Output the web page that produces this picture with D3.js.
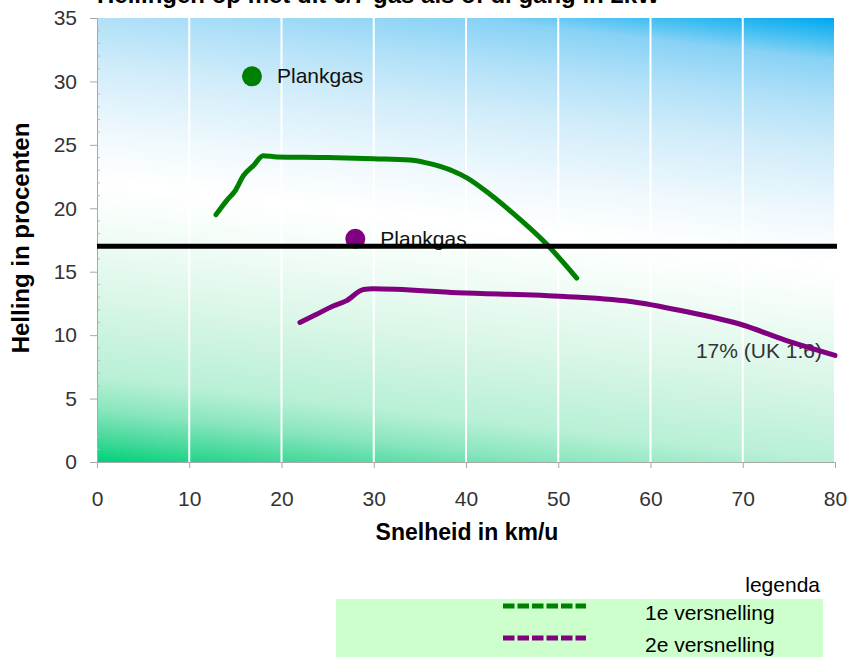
<!DOCTYPE html>
<html><head><meta charset="utf-8">
<script src="https://cdn.jsdelivr.net/npm/d3@7"></script>
<style>body{margin:0;background:#fff}svg{display:block;font-family:"Liberation Sans",Arial,sans-serif}</style>
</head><body><svg id="c" width="848" height="657"></svg>
<script>
const titleText = "Hellingen op met dit 6/7 gas als of di gang in 2kW";
const xTicks = [0,10,20,30,40,50,60,70,80];
const yTicks = [0,5,10,15,20,25,30,35];
const gear1Speed = [12.9,14.1,14.9,15.9,17.0,18.0,19.5,25,30,33.9,35.6,37.2,38.7,40.1,42.6,45.1,48.7,52.0];
const gear1Slope = [19.5,20.65,21.3,22.6,23.4,24.15,24.05,24.0,23.9,23.8,23.6,23.3,22.9,22.4,21.1,19.6,17.2,14.5];
const gear2Speed = [22.0,23.7,25.6,27.0,28.9,29.9,39.1,50.7,58.4,64.2,70.0,74.6,80];
const gear2Slope = [11.0,11.6,12.3,12.7,13.6,13.65,13.35,13.05,12.6,11.8,10.8,9.6,8.4];
const refLevel = 17;
const refLabel = "17% (UK 1:6)";
const fullThrottle = [{speed:16.8, slope:30.4, color:"#008000", label:"Plankgas"},
                      {speed:28.0, slope:17.6, color:"#800080", label:"Plankgas"}];
const legendItems = [{label:"1e versnelling", color:"#008000"},{label:"2e versnelling", color:"#800080"}];

const FS = 21;
const svg = d3.select("#c");
const x = d3.scaleLinear().domain([0,80]).range([97,835]);
const y = d3.scaleLinear().domain([0,35]).range([462,18]);

const defs = svg.append("defs");
const g = defs.append("linearGradient").attr("id","bg").attr("gradientUnits","userSpaceOnUse")
  .attr("x1",434).attr("y1",500).attr("x2",494).attr("y2",-21);
[[0,"#00d27a"],[0.04,"#40d898"],[0.1,"#8ae6bf"],[0.16,"#b8f0d6"],[0.3,"#d8f6e6"],[0.45,"#f4fdf8"],[0.53,"#ffffff"],[0.62,"#f0f9fd"],[0.75,"#d0ecfa"],[0.84,"#b0e0f8"],[0.92,"#88d2f5"],[0.96,"#40bef2"],[1,"#00a8f0"]]
 .forEach(s=>g.append("stop").attr("offset",s[0]).attr("stop-color",s[1]));

svg.append("rect").attr("x",x(0)).attr("y",y(35)).attr("width",x(80)-x(0)).attr("height",y(0)-y(35)).attr("fill","url(#bg)");

// gridlines
svg.append("g").selectAll("line").data(xTicks.filter(d=>d>0)).join("line")
  .attr("x1",d=>x(d)).attr("x2",d=>x(d)).attr("y1",y(0)).attr("y2",y(35))
  .attr("stroke","#fff").attr("stroke-width",2);

// axes
const ax = svg.append("g").attr("transform",`translate(0,${y(0)})`)
  .call(d3.axisBottom(x).tickValues(xTicks).tickSize(6).tickPadding(23));
ax.select(".domain").attr("stroke","#a8a8a8");
ax.selectAll(".tick line").attr("stroke","#a8a8a8");
ax.selectAll("text").attr("font-size",FS).attr("fill","#333").attr("font-family","Liberation Sans, Arial, sans-serif");

const ay = svg.append("g").attr("transform",`translate(${x(0)},0)`)
  .call(d3.axisLeft(y).tickValues(yTicks).tickSize(7).tickPadding(13));
ay.select(".domain").attr("stroke","#a8a8a8");
ay.selectAll(".tick line").attr("stroke","#a8a8a8");
ay.selectAll("text").attr("font-size",FS).attr("fill","#333").attr("font-family","Liberation Sans, Arial, sans-serif");
// minor ticks inside
svg.append("g").selectAll("line").data(d3.range(0,36).filter(d=>d%5!==0)).join("line")
  .attr("x1",x(0)).attr("x2",x(0)+3).attr("y1",d=>y(d)).attr("y2",d=>y(d)).attr("stroke","#b8b8b8");

// reference label
svg.append("text").attr("x",822).attr("y",358).attr("text-anchor","end").attr("font-size",FS).attr("fill","#333").text(refLabel);

// curves
const line = d3.line().x(d=>x(d[0])).y(d=>y(d[1])).curve(d3.curveMonotoneX);
svg.append("path").attr("d",line(d3.zip(gear1Speed,gear1Slope))).attr("fill","none").attr("stroke","#008000").attr("stroke-width",5).attr("stroke-linecap","round").attr("stroke-linejoin","round");
svg.append("path").attr("d",line(d3.zip(gear2Speed,gear2Slope))).attr("fill","none").attr("stroke","#800080").attr("stroke-width",5).attr("stroke-linecap","round").attr("stroke-linejoin","round");

// points + labels
fullThrottle.forEach(p=>{
  svg.append("circle").attr("cx",x(p.speed)).attr("cy",y(p.slope)).attr("r",10).attr("fill",p.color);
  svg.append("text").attr("x",x(p.speed)+25).attr("y",y(p.slope)+7).attr("font-size",FS).attr("fill","#111").text(p.label);
});

// reference line
svg.append("line").attr("x1",x(0)).attr("x2",x(80)+2).attr("y1",y(refLevel)).attr("y2",y(refLevel)).attr("stroke","#000").attr("stroke-width",5);

// titles
svg.append("text").attr("x",97).attr("y",3).attr("font-size",24).attr("font-weight","bold").text(titleText);
svg.append("text").attr("x",467).attr("y",540).attr("text-anchor","middle").attr("font-size",23).attr("font-weight","bold").text("Snelheid in km/u");
svg.append("text").attr("transform","translate(29,238) rotate(-90)").attr("text-anchor","middle").attr("font-size",24).attr("font-weight","bold").text("Helling in procenten");

// legend
svg.append("text").attr("x",820).attr("y",592).attr("text-anchor","end").attr("font-size",FS).text("legenda");
svg.append("rect").attr("x",336).attr("y",599).attr("width",487).attr("height",58).attr("fill","#ccffcc");
legendItems.forEach((it,i)=>{
  const yy = 606 + i*32;
  svg.append("line").attr("x1",503).attr("x2",586).attr("y1",yy).attr("y2",yy).attr("stroke",it.color).attr("stroke-width",5).attr("stroke-dasharray","11.5,3");
  svg.append("text").attr("x",645).attr("y",yy+14).attr("font-size",FS).text(it.label);
});
</script></body></html>
